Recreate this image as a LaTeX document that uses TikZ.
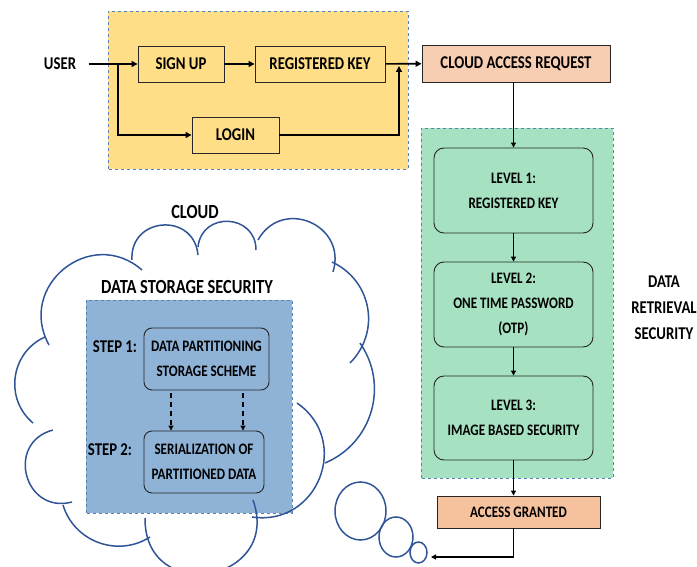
\documentclass[tikz,border=0pt]{standalone}
\usepackage{fontspec}
\setmainfont{Carlito}[FakeStretch=0.82]
\usetikzlibrary{arrows.meta}
\definecolor{signyellow}{RGB}{255,222,135}
\definecolor{retrgreen}{RGB}{166,226,194}
\definecolor{storeblue}{RGB}{143,179,215}
\definecolor{reqpeach}{RGB}{248,206,178}
\definecolor{grantpeach}{RGB}{246,194,158}
\definecolor{cloudblue}{RGB}{47,85,151}
\definecolor{dashblue}{RGB}{84,130,180}

\begin{document}
\begin{tikzpicture}[x=1pt,y=1pt]

\tikzset{big/.style={font=\fontsize{18}{26}\selectfont\bfseries,align=center}}
\tikzset{huge/.style={font=\fontsize{20}{26}\selectfont\bfseries,align=center}}
\tikzset{small/.style={font=\fontsize{16}{25}\selectfont\bfseries,align=center}}
\tikzset{region/.style={draw=dashblue,dashed,line width=0.8pt}}
\tikzset{flatbox/.style={draw=black!85,line width=0.9pt,inner sep=0pt,big}}
\tikzset{levelbox/.style={draw=black!85,line width=0.9pt,rounded corners=10pt,fill=retrgreen,
  minimum width=159pt,minimum height=85pt,inner sep=0pt,small}}
\tikzset{stepbox/.style={draw=black!85,line width=0.9pt,rounded corners=8pt,fill=storeblue,
  minimum height=62pt,inner sep=0pt,small}}
\tikzset{flow/.style={line width=1.6pt,-{Triangle[length=6pt,width=6pt]}}}
\tikzset{thinflow/.style={line width=1.1pt,-{Triangle[length=5pt,width=5pt]}}}
\tikzset{dashflow/.style={line width=1.1pt,dash pattern=on 5pt off 4pt,-{Triangle[length=5pt,width=5pt]}}}
\tikzset{cloudline/.style={draw=cloudblue,line width=1.5pt}}

\useasboundingbox (0,0) rectangle (697,566);

% regions
\draw[region,fill=signyellow] (108,397) rectangle (408,555);
\draw[region,fill=retrgreen] (421,88) rectangle (613,438);
\draw[region,fill=storeblue] (86,53) rectangle (292,266);

% cloud outline
\foreach \ax/\ay/\bx/\by/\ang/\lo in {150/29/63/61/53/1.06, 72/64/53/136/90/1.70,
    33/143/45/229/58/1.11, 49/221/142/296/80/1.45, 132/306/198/311/89/1.68,
    198/319/256/316/87/1.60, 258/326/333/294/84/1.55, 332/304/350/203/55/1.10,
    360/223/325/103/51/1.05, 297/163/252/49/77/1.39, 253/66/145/48/100/2.06}
  \draw[cloudline] (\ax,\ay) to[bend left=\ang,looseness=\lo] (\bx,\by);
\draw[cloudline] (360.5,55) ellipse [x radius=25.5, y radius=29];
\draw[cloudline] (396,29) ellipse [x radius=17, y radius=20];
\draw[cloudline] (418.5,13.5) ellipse [x radius=8.5, y radius=10.5];

% login part
\node[big] (user) at (60,502) {USER};
\node[flatbox,fill=signyellow,minimum width=86pt,minimum height=36pt] (signup) at (181,502) {SIGN UP};
\node[flatbox,fill=signyellow,minimum width=130pt,minimum height=36pt] (regkey) at (320,502) {REGISTERED KEY};
\node[flatbox,fill=signyellow,minimum width=87pt,minimum height=36pt] (login) at (235.5,431) {LOGIN};
\node[flatbox,fill=reqpeach,minimum width=188pt,minimum height=37pt] (car) at (516,502.5) {CLOUD ACCESS REQUEST};
\coordinate (split) at (118,502);
\coordinate (join) at (399,500);

\draw[flow,shorten <=9pt] (user.east) -- (signup.west);
\draw[flow] (split) |- (login.west);
\draw[flow] (signup) -- (regkey);
\draw[flow] (regkey) -- (car);
\draw[flow] (login.east) -| (join);

% retrieval part
\node[levelbox] (lvA) at (513.5,375.5) {LEVEL 1:\\REGISTERED KEY};
\node[levelbox] (lvB) at (513.5,261.5) {LEVEL 2:\\ONE TIME PASSWORD\\(OTP)};
\node[levelbox,minimum height=84pt] (lvC) at (513.5,148) {LEVEL 3:\\IMAGE BASED SECURITY};
\node[flatbox,small,fill=grantpeach,minimum width=163pt,minimum height=32pt] (grant) at (518.5,54) {ACCESS GRANTED};
\node[big] (retrieval) at (664,258) {DATA\\RETRIEVAL\\SECURITY};
\coordinate (grantend) at (431,9);

\draw[thinflow] (car.south -| lvA) -- (lvA.north);
\draw[thinflow] (lvA) -- (lvB);
\draw[thinflow] (lvB) -- (lvC);
\draw[thinflow] (lvC.south) -- (grant.north -| lvC);
\draw[thinflow] (grant.south -| lvC) |- (grantend);

% storage part
\node[huge] (cloud) at (195,354) {CLOUD};
\node[huge] (storage) at (187,279) {DATA STORAGE SECURITY};
\node[stepbox,minimum width=125pt] (stepA) at (206.5,207) {DATA PARTITIONING\\STORAGE SCHEME};
\node[stepbox,minimum width=120pt] (stepB) at (204,104) {SERIALIZATION OF\\PARTITIONED DATA};
\node[big] (stepAlabel) at (115,219) {STEP 1:};
\node[big] (stepBlabel) at (110,116) {STEP 2:};
\coordinate (tapL) at (171,0);
\coordinate (tapR) at (243,0);

\draw[dashflow,shorten <=3pt] (stepA.south -| tapL) -- (stepB.north -| tapL);
\draw[dashflow,shorten <=3pt] (stepA.south -| tapR) -- (stepB.north -| tapR);

\end{tikzpicture}
\end{document}
